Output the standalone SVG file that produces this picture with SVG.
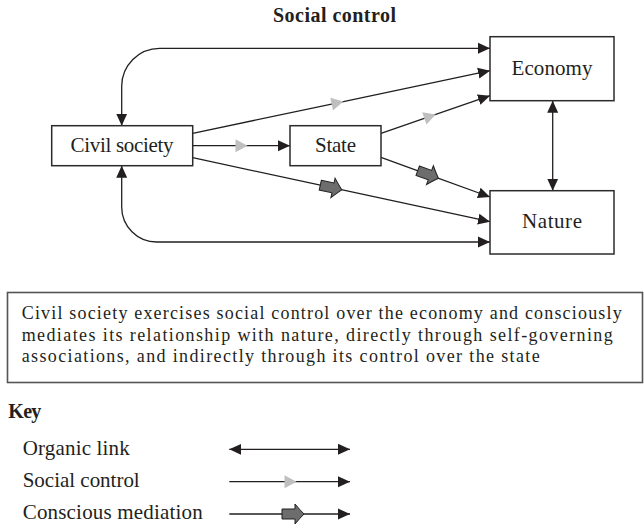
<svg xmlns="http://www.w3.org/2000/svg" width="644" height="527" viewBox="0 0 644 527">
<style>
text{fill:#231f20}
.t{font-size:21px}
.c{font-size:18px}
.b{font-weight:bold;font-size:20px}
.box{fill:#fff;stroke:#2b2b2b;stroke-width:1.5}
.ln{fill:none;stroke:#231f20;stroke-width:1.3}
.org{marker-start:url(#ah);marker-end:url(#ah)}
.soc{marker-mid:url(#gray);marker-end:url(#ah)}
.med{marker-mid:url(#med);marker-end:url(#ah)}
</style>
<defs>
<marker id="ah" markerUnits="userSpaceOnUse" markerWidth="12" markerHeight="12" viewBox="0 0 12 12" refX="12" refY="6" orient="auto-start-reverse"><path d="M0,0.5 L12,6 L0,11.5 z" fill="#231f20"/></marker>
<marker id="gray" markerUnits="userSpaceOnUse" markerWidth="14" markerHeight="14" viewBox="-7 -7 14 14" refX="0" refY="0" orient="auto"><path d="M-6,-6.5 L6,0 L-6,6.5 z" fill="#bfbfbf"/></marker>
<marker id="med" markerUnits="userSpaceOnUse" markerWidth="28" markerHeight="24" viewBox="-14 -12 28 24" refX="0" refY="0" orient="auto"><path d="M-12,-5 H1 V-10 Q6,-4 10,0 Q6,4 1,10 V5 H-12 Z" fill="#6d6d6d" stroke="#231f20" stroke-width="1"/></marker>
</defs>
<g font-family="'Liberation Serif','DejaVu Serif','Times New Roman',serif">
<text class="b" x="273" y="22" textLength="123">Social control</text>
<g id="connectors">
<path class="ln org" d="M121.7,125.7 V86.3 A38,38 0 0 1 159.7,48.3 H490"/>
<path class="ln org" d="M121.7,165.7 V207 A35,35 0 0 0 156.7,242 H490"/>
<path class="ln org" d="M552.7,100.7 V190.7"/>
<path class="ln soc" d="M192.7,133.3 L337.5,102.8 L490,70.7"/>
<path class="ln soc" d="M381,133.3 L430,116.4 L490,95.7"/>
<path class="ln soc" d="M192.7,145.7 H241.5 H290"/>
<path class="ln med" d="M192.7,157.7 L332,187.7 L490,221.7"/>
<path class="ln med" d="M381,157.3 L429,174.8 L490,197"/>
</g>
<g id="civil-society"><rect class="box" x="51.7" y="125.7" width="141" height="40"/><text class="t" x="70.5" y="152" textLength="103">Civil society</text></g>
<g id="state"><rect class="box" x="290" y="125.7" width="91" height="40"/><text class="t" x="315" y="152" textLength="41">State</text></g>
<g id="economy"><rect class="box" x="490" y="36.7" width="124" height="64"/><text class="t" x="511.5" y="75" textLength="81">Economy</text></g>
<g id="nature"><rect class="box" x="490" y="190.7" width="124" height="63.3"/><text class="t" x="522" y="228.3" textLength="60">Nature</text></g>
<g id="caption">
<rect x="7.5" y="292.5" width="635" height="90" fill="none" stroke="#555" stroke-width="1.6"/>
<text class="c" x="21.7" y="319" textLength="600">Civil society exercises social control over the economy and consciously</text>
<text class="c" x="21.7" y="340.5" textLength="591">mediates its relationship with nature, directly through self-governing</text>
<text class="c" x="21.7" y="362" textLength="518">associations, and indirectly through its control over the state</text>
</g>
<g id="key">
<text class="b" x="8.3" y="418" textLength="33">Key</text>
<text class="t" x="22.7" y="454.5" textLength="107">Organic link</text>
<text class="t" x="22.7" y="487" textLength="117">Social control</text>
<text class="t" x="22.7" y="519" textLength="180">Conscious mediation</text>
<path class="ln org" d="M229.3,449.3 H350"/>
<path class="ln soc" d="M229.3,481.7 H290.5 H350"/>
<path class="ln med" d="M229.3,514 H294 H350"/>
</g>
</g>
</svg>
